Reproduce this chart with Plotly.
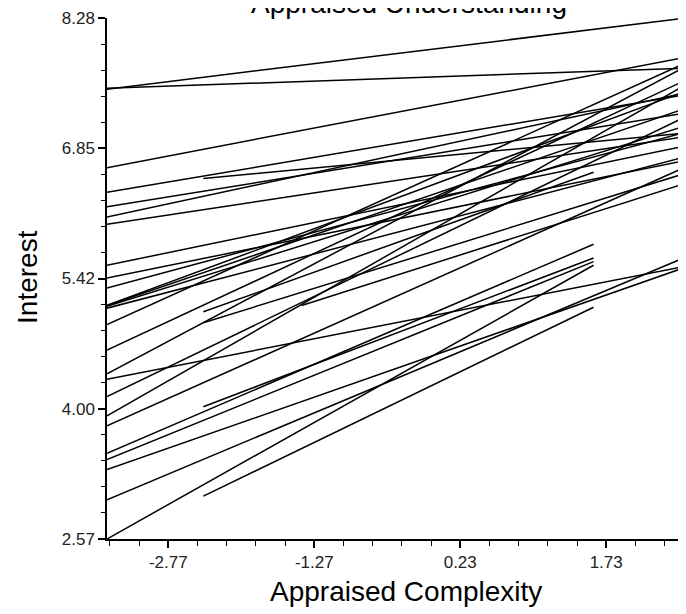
import plotly.graph_objects as go

# Per-person fitted lines: Interest vs Appraised Complexity
x_start = [-3.40, -3.40, -3.40, -3.40, -3.40, -3.40, -3.40, -3.40, -3.40, -3.40,
           -3.40, -3.40, -3.40, -3.40, -3.40, -3.40, -3.40, -3.40, -3.40, -3.40,
           -3.40, -3.40, -3.40, -3.40, -3.40, -3.40,
           -2.41, -2.41, -2.41, -2.41, -2.41, -1.40]
x_end = [2.55, 2.55, 2.55, 2.55, 2.55, 2.55, 2.55, 2.55, 2.55, 2.55,
         2.55, 2.55, 2.55, 2.55, 2.55, 2.55, 2.55, 2.55, 2.55, 2.55,
         2.55, 2.55, 2.55, 1.60, 1.60, 1.60,
         2.55, 1.60, 2.55, 1.60, 1.60, 2.55]
y_start = [7.50, 7.51, 6.64, 6.37, 6.21, 6.10, 6.02, 5.57, 5.43, 5.32,
           5.13, 5.13, 5.12, 5.10, 4.92, 4.64, 4.38, 4.32, 4.13, 3.92,
           3.81, 3.33, 3.00, 2.57, 3.51, 3.44,
           6.52, 5.06, 4.94, 4.02, 3.04, 5.13]
y_end = [8.28, 7.73, 7.85, 7.44, 7.24, 7.46, 6.98, 6.88, 6.72, 7.03,
         7.48, 7.29, 7.10, 6.76, 7.79, 7.60, 7.75, 5.56, 7.20, 7.55,
         6.65, 5.55, 5.66, 5.57, 5.80, 5.61,
         7.02, 6.59, 6.58, 5.65, 5.11, 6.47]

x_tickvals = [-2.77, -1.27, 0.23, 1.73]
x_ticktext = ["-2.77", "-1.27", "0.23", "1.73"]
y_tickvals = [2.57, 3.9975, 5.425, 6.8525, 8.28]
y_ticktext = ["2.57", "4.00", "5.42", "6.85", "8.28"]

title_text = "Appraised Understanding"
x_title = "Appraised Complexity"
y_title = "Interest"

FONT = "Liberation Sans, Arial, Helvetica, sans-serif"

fig = go.Figure()
for xs, xe, ys, ye in zip(x_start, x_end, y_start, y_end):
    fig.add_trace(go.Scatter(
        x=[xs, xe], y=[ys, ye], mode="lines",
        line=dict(color="black", width=1.5),
        showlegend=False, hoverinfo="skip", cliponaxis=False,
    ))

# page body has an 8px margin, so the figure is sized/offset to compensate
fig.update_layout(
    width=678, height=606,
    margin=dict(l=99, r=0, t=10, b=75),
    paper_bgcolor="white", plot_bgcolor="white",
    font=dict(family=FONT, color="black"),
    showlegend=False,
)

fig.update_xaxes(
    range=[-3.40, 2.55], showgrid=False, zeroline=False,
    showline=True, linecolor="black", linewidth=1.5,
    tickmode="array", tickvals=x_tickvals, ticktext=x_ticktext,
    ticks="outside", ticklen=7, tickwidth=1.5, tickcolor="black",
    tickfont=dict(size=17, family=FONT, color="#222"),
    minor=dict(tick0=-2.77, dtick=0.3, ticks="outside", ticklen=5,
               tickwidth=1.2, tickcolor="black", showgrid=False),
)
fig.update_yaxes(
    range=[2.57, 8.28], showgrid=False, zeroline=False,
    showline=True, linecolor="black", linewidth=1.5,
    tickmode="array", tickvals=y_tickvals, ticktext=y_ticktext,
    ticks="outside", ticklen=7, tickwidth=1.5, tickcolor="black",
    tickfont=dict(size=17, family=FONT, color="#222"),
    minor=dict(tick0=2.57, dtick=0.2855, ticks="outside", ticklen=4,
               tickwidth=1.2, tickcolor="black", showgrid=False),
)

fig.add_annotation(text=title_text, xref="paper", yref="paper",
                   x=0.5216, y=1, xanchor="center", yanchor="bottom",
                   yshift=-3, showarrow=False,
                   font=dict(size=28, family=FONT, color="black"))
fig.add_annotation(text=x_title, xref="paper", yref="paper",
                   x=0.5164, y=0, xanchor="center", yanchor="middle",
                   yshift=-52, showarrow=False,
                   font=dict(size=28, family=FONT, color="black"))
fig.add_annotation(text=y_title, xref="paper", yref="paper",
                   x=0, y=0.503, xanchor="center", yanchor="middle",
                   xshift=-79, textangle=-90, showarrow=False,
                   font=dict(size=28, family=FONT, color="black"))

fig.write_html("out.html")
